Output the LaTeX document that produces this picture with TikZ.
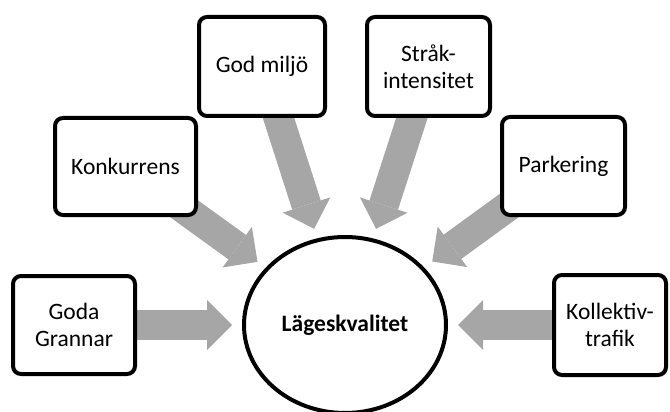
\documentclass[tikz,border=0pt]{standalone}
\usepackage{fontspec}
\setmainfont{Carlito}
\usetikzlibrary{arrows.meta,backgrounds,shapes.geometric}
\definecolor{arrowgray}{RGB}{166,166,166}
\tikzset{
  box/.style={draw=black, line width=4pt, rounded corners=8pt, fill=white,
    align=center, inner sep=0pt, font=\fontsize{23.5}{27}\selectfont},
  hub/.style={draw=black, line width=4pt, ellipse, fill=white, inner sep=0pt,
    minimum width=202pt, minimum height=176pt, font=\fontsize{23.5}{27}\selectfont\bfseries},
  bigarrow/.style={draw=arrowgray, line width=30pt,
    -{Triangle[width=50pt,length=25pt,line width=0pt]}, shorten >=10pt}
}
\begin{document}
\begin{tikzpicture}[x=1pt,y=-1pt]
\useasboundingbox (0,0) rectangle (670,412);
\node[hub] (lage) at (345,325) {Lägeskvalitet};
\node[box, minimum width=122pt, minimum height=98pt] (goda) at (74,325) {Goda\\Grannar};
\node[box, minimum width=141pt, minimum height=97pt] (konk) at (125.5,166.5) {Konkurrens};
\node[box, minimum width=126pt, minimum height=99pt] (miljo) at (262,66.5) {God miljö};
\node[box, minimum width=123pt, minimum height=99pt] (strak) at (428.5,66.5) {Stråk-\\intensitet};
\node[box, minimum width=123pt, minimum height=98pt] (park) at (563.5,166) {Parkering};
\node[box, minimum width=112pt, minimum height=100pt] (koll) at (610,325) {Kollektiv-\\trafik};
\begin{scope}[on background layer]
\draw[bigarrow] (goda.center) -- (lage);
\draw[bigarrow] (konk.center) -- (lage);
\draw[bigarrow] (miljo.center) -- (lage);
\draw[bigarrow] (strak.center) -- (lage);
\draw[bigarrow] (park.center) -- (lage);
\draw[bigarrow] (koll.center) -- (lage);
\end{scope}
\end{tikzpicture}
\end{document}
